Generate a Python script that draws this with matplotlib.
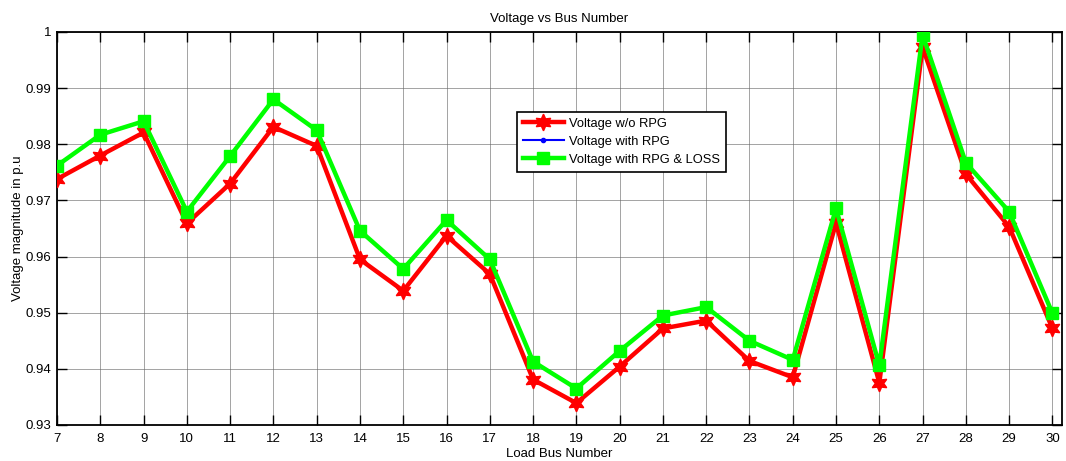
import matplotlib
matplotlib.use("Agg")
import matplotlib.pyplot as plt

bus = list(range(7, 31))
v_wo_rpg = [0.9738, 0.9780, 0.9821, 0.9659, 0.9730, 0.9831, 0.9797, 0.9595, 0.9539, 0.9637,
            0.9569, 0.9381, 0.9339, 0.9404, 0.9472, 0.9486, 0.9414, 0.9385, 0.9660, 0.9375,
            0.9973, 0.9747, 0.9653, 0.9472]
v_with_rpg = [0.9762, 0.9817, 0.9841, 0.9680, 0.9779, 0.9880, 0.9825, 0.9646, 0.9578, 0.9665,
              0.9595, 0.9413, 0.9365, 0.9432, 0.9495, 0.9510, 0.9450, 0.9416, 0.9686, 0.9406,
              0.9995, 0.9767, 0.9680, 0.9499]
v_rpg_loss = [0.9762, 0.9817, 0.9841, 0.9680, 0.9779, 0.9880, 0.9825, 0.9646, 0.9578, 0.9665,
              0.9595, 0.9413, 0.9365, 0.9432, 0.9495, 0.9510, 0.9450, 0.9416, 0.9686, 0.9406,
              0.9995, 0.9767, 0.9680, 0.9499]
yticks = [0.93, 0.94, 0.95, 0.96, 0.97, 0.98, 0.99, 1.0]
yticklabels = ["0.93", "0.94", "0.95", "0.96", "0.97", "0.98", "0.99", "1"]

plt.rcParams['font.family'] = ['Liberation Sans', 'DejaVu Sans']

fig = plt.figure(figsize=(10.66, 4.61), dpi=100)
ax = fig.add_axes([0.0535, 0.0781, 0.9427, 0.8525])

ax.plot(bus, v_wo_rpg, color='#ff0000', lw=3.2, marker=(6, 1, 0), ms=12,
        mfc='#ff0000', mec='#ff0000', label='Voltage w/o RPG', zorder=3)
ax.plot(bus, v_with_rpg, color='#0000ff', lw=1.5, marker='o', ms=3,
        label='Voltage with RPG', zorder=3)
ax.plot(bus, v_rpg_loss, color='#00ff00', lw=3.2, marker='s', ms=9,
        mfc='#00ff00', mec='#00ff00', label='Voltage with RPG & LOSS', zorder=4)

ax.set_xlim(7, 30.22)
ax.set_ylim(0.93, 1.0)
ax.set_xticks(bus)
ax.set_yticks(yticks)
ax.set_yticklabels(yticklabels)
ax.tick_params(direction='in', top=True, right=True, length=7, width=1,
               labelsize=9.5, pad=4)
ax.tick_params(axis='x', pad=6)
ax.grid(True, color='#666666', lw=0.6, alpha=0.7)
for s in ax.spines.values():
    s.set_linewidth(1.3)

ax.set_title('Voltage vs Bus Number', fontsize=9.5, pad=7)
ax.set_xlabel('Load Bus Number', fontsize=9.5)
ax.set_ylabel('Voltage magnitude in p.u', fontsize=9.5)
ax.xaxis.set_label_coords(0.5, -0.058)
ax.yaxis.set_label_coords(-0.033, 0.5)

leg = ax.legend(loc='upper left', bbox_to_anchor=(0.4577, 0.796), borderaxespad=0,
                fontsize=9.3, frameon=True, fancybox=False, edgecolor='black',
                framealpha=1, handlelength=3.2, handletextpad=0.4,
                labelspacing=0.45, borderpad=0.45)
leg.get_frame().set_linewidth(1.2)

fig.savefig('out.png', dpi=100)
